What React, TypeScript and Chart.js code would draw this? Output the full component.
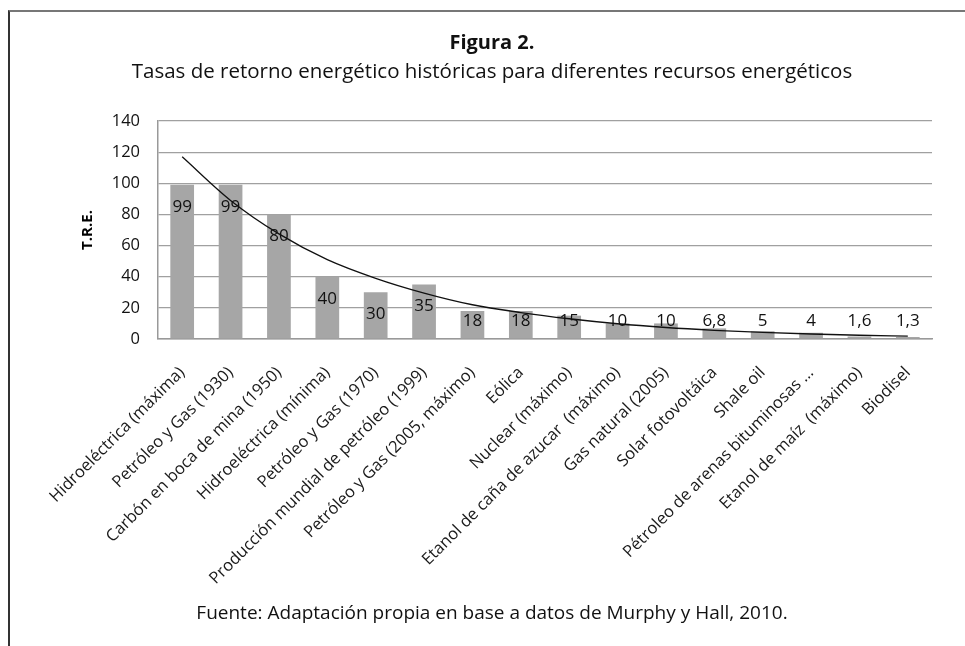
import React, { useEffect, useRef } from "react";
import { Chart, registerables } from "chart.js";

Chart.register(...registerables);

const categories = [
  "Hidroeléctrica (máxima)",
  "Petróleo y Gas (1930)",
  "Carbón en boca de mina (1950)",
  "Hidroeléctrica (mínima)",
  "Petróleo y Gas (1970)",
  "Producción mundial de petróleo (1999)",
  "Petróleo y Gas (2005, máximo)",
  "Eólica",
  "Nuclear (máximo)",
  "Etanol de caña de azucar  (máximo)",
  "Gas natural (2005)",
  "Solar fotovoltáica",
  "Shale oil",
  "Pétroleo de arenas bituminosas ...",
  "Etanol de maíz  (máximo)",
  "Biodisel",
];

const treValues = [99, 99, 80, 40, 30, 35, 18, 18, 15, 10, 10, 6.8, 5, 4, 1.6, 1.3];

// trend line (exponential-looking curve) at each category
const trendValues = [117, 89, 67.5, 51, 39, 29.5, 22, 17, 13, 9.8, 7.4, 5.6, 4.2, 3.2, 2.4, 1.8];

const yMin = 0;
const yMax = 140;
const yStep = 20;

const titleText = "Figura 2.";
const subtitleText = "Tasas de retorno energético históricas para diferentes recursos energéticos";
const yAxisTitle = "T.R.E.";
const sourceText = "Fuente: Adaptación propia en base a datos de Murphy y Hall, 2010.";

const FONT = "'Open Sans', 'DejaVu Sans', sans-serif";

export default function App() {
  const ref = useRef<HTMLCanvasElement>(null);

  useEffect(() => {
    if (!ref.current) return;
    const labelPlugin = {
      id: "barValueLabels",
      afterDatasetsDraw(chart: any) {
        const ctx = chart.ctx;
        const meta = chart.getDatasetMeta(0);
        const y0 = chart.scales.y.getPixelForValue(0);
        ctx.save();
        ctx.font = `17px ${FONT}`;
        ctx.fillStyle = "#111";
        ctx.textAlign = "center";
        ctx.textBaseline = "middle";
        meta.data.forEach((bar: any, i: number) => {
          const y = Math.min(bar.y + 22, y0 - 18);
          ctx.fillText(String(treValues[i]).replace(".", ","), bar.x, y);
        });
        ctx.restore();
      },
    };

    const chart = new Chart(ref.current, {
      type: "bar",
      data: {
        labels: categories,
        datasets: [
          {
            type: "bar",
            data: treValues,
            backgroundColor: "#a6a6a6",
            barPercentage: 1,
            categoryPercentage: 0.49,
            order: 1,
          } as any,
          {
            type: "line",
            data: trendValues,
            borderColor: "#111",
            borderWidth: 1.3,
            pointRadius: 0,
            fill: false,
            cubicInterpolationMode: "monotone",
            order: 0,
          } as any,
        ],
      },
      options: {
        animation: false,
        responsive: false,
        maintainAspectRatio: false,
        layout: { padding: { left: 60, top: 121, right: 33, bottom: 57 } },
        plugins: {
          legend: { display: false },
          tooltip: { enabled: false },
          title: { display: false },
        },
        scales: {
          x: {
            grid: { display: false, drawTicks: false },
            border: { display: true, color: "#999", width: 1.5 },
            ticks: {
              autoSkip: false,
              maxRotation: 45,
              minRotation: 45,
              padding: 24,
              color: "#1a1a1a",
              font: { family: FONT, size: 16.5 },
            },
            afterFit: (s: any) => {
              s.height = 250;
            },
          },
          y: {
            min: yMin,
            max: yMax,
            ticks: {
              stepSize: yStep,
              padding: 18,
              color: "#111",
              font: { family: FONT, size: 16.5 },
            },
            grid: { color: "#a0a0a0", drawTicks: false, lineWidth: 1.2 },
            border: { display: true, color: "#999", width: 1.5 },
            title: {
              display: true,
              text: yAxisTitle,
              color: "#000",
              font: { family: FONT, size: 15, weight: "bold" },
              padding: { top: 19, bottom: 0 },
            },
            afterFit: (s: any) => {
              s.width = 98;
            },
          },
        },
      } as any,
      plugins: [labelPlugin],
    });
    return () => chart.destroy();
  }, []);

  return (
    <div
      style={{
        position: "fixed",
        left: 0,
        top: 0,
        width: 965,
        height: 646,
        background: "#fff",
        overflow: "hidden",
      }}
    >
      <canvas
        ref={ref}
        width={965}
        height={646}
        style={{ position: "absolute", left: 0, top: 0, width: 965, height: 646 }}
      />
      <div
        style={{
          position: "absolute",
          left: 8,
          top: 10,
          width: 990,
          height: 700,
          borderLeft: "2px solid #333",
          borderTop: "2px solid #777",
          pointerEvents: "none",
        }}
      />
      <div
        style={{
          position: "absolute",
          left: 9,
          width: 966,
          top: 29,
          lineHeight: "26px",
          textAlign: "center",
          fontFamily: FONT,
          fontWeight: "bold",
          fontSize: 20,
          color: "#111",
        }}
      >
        {titleText}
      </div>
      <div
        style={{
          position: "absolute",
          left: 9,
          width: 966,
          top: 57,
          lineHeight: "26px",
          textAlign: "center",
          fontFamily: FONT,
          fontSize: 20.5,
          color: "#111",
          whiteSpace: "nowrap",
        }}
      >
        {subtitleText}
      </div>
      <div
        style={{
          position: "absolute",
          left: 9,
          width: 966,
          top: 599,
          lineHeight: "26px",
          textAlign: "center",
          fontFamily: FONT,
          fontSize: 19,
          color: "#111",
          whiteSpace: "nowrap",
        }}
      >
        {sourceText}
      </div>
    </div>
  );
}
